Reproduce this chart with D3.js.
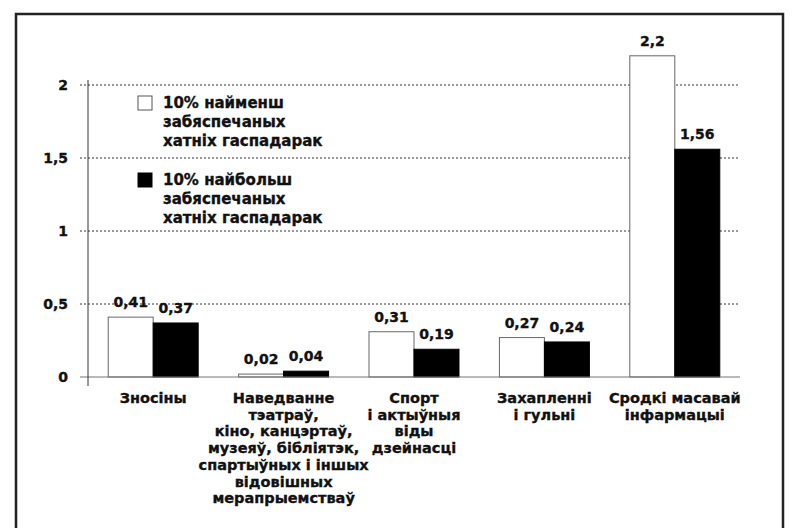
<!DOCTYPE html>
<html>
<head>
<meta charset="utf-8">
<script src="https://cdn.jsdelivr.net/npm/d3@7"></script>
<style>
  body { margin: 0; background: #fff; }
  text { font-family: "DejaVu Sans", Verdana, sans-serif; font-weight: bold; fill: #111; stroke: #111; stroke-width: 0.35px; }
</style>
</head>
<body>
<script>
const categories = ['Зносіны', 'Наведванне', 'Спорт', 'Захапленні', 'Сродкі масавай'];
const categoryLines = [
    ['Зносіны'],
    ['Наведванне', 'тэатраў,', 'кіно, канцэртаў,', 'музеяў, бібліятэк,', 'спартыўных і іншых', 'відовішных', 'мерапрыемстваў'],
    ['Спорт', 'і актыўныя', 'віды', 'дзейнасці'],
    ['Захапленні', 'і гульні'],
    ['Сродкі масавай', 'інфармацыі']
];
const seriesNames = ['poorest', 'richest'];
const poorestValues = [0.41, 0.02, 0.31, 0.27, 2.2];
const richestValues = [0.37, 0.04, 0.19, 0.24, 1.56];
const valueLabelsPoorest = ['0,41', '0,02', '0,31', '0,27', '2,2'];
const valueLabelsRichest = ['0,37', '0,04', '0,19', '0,24', '1,56'];
const yTicks = [0, 0.5, 1, 1.5, 2];
const yTickLabels = ['0', '0,5', '1', '1,5', '2'];
const legendLines = [
    ['10% найменш', 'забяспечаных', 'хатніх гаспадарак'],
    ['10% найбольш', 'забяспечаных', 'хатніх гаспадарак']
];

const SIZE = { width: 797, height: 528 };
const PLOT = { left: 88, right: 740, zero: 377, top2: 85 };

const svg = d3.select('body').append('svg')
    .attr('width', SIZE.width)
    .attr('height', SIZE.height);

// outer frame (bottom edge runs off the picture)
svg.append('rect')
    .attr('x', 16).attr('y', 14)
    .attr('width', 767).attr('height', 540)
    .attr('fill', 'none')
    .attr('stroke', '#222')
    .attr('stroke-width', 2.5);

const y = d3.scaleLinear().domain([0, 2]).range([PLOT.zero, PLOT.top2]);

const x0 = d3.scaleBand()
    .domain(categories)
    .range([PLOT.left, PLOT.right])
    .paddingInner(0.31)
    .paddingOuter(0.155);

const x1 = d3.scaleBand()
    .domain(seriesNames)
    .range([0, x0.bandwidth()]);

const rows = categories.map((c, i) => ({
    cat: c,
    lines: categoryLines[i],
    vals: [
        { key: 'poorest', v: poorestValues[i], label: valueLabelsPoorest[i] },
        { key: 'richest', v: richestValues[i], label: valueLabelsRichest[i] }
    ]
}));

// dashed gridlines
svg.append('g').selectAll('line')
    .data(yTicks.filter(d => d > 0))
    .enter().append('line')
    .attr('x1', 80).attr('x2', PLOT.right)
    .attr('y1', d => y(d)).attr('y2', d => y(d))
    .attr('stroke', '#333')
    .attr('stroke-width', 1)
    .attr('stroke-dasharray', '2,2');

// y tick labels
svg.append('g').selectAll('text')
    .data(yTicks)
    .enter().append('text')
    .attr('x', 68)
    .attr('y', d => y(d) + 5)
    .attr('text-anchor', 'end')
    .style('font-size', '14px')
    .text((d, i) => yTickLabels[i]);

// bars
const groups = svg.append('g').selectAll('g')
    .data(rows)
    .enter().append('g')
    .attr('transform', d => `translate(${x0(d.cat)},0)`);

groups.selectAll('rect')
    .data(d => d.vals)
    .enter().append('rect')
    .attr('x', d => x1(d.key))
    .attr('y', d => y(d.v))
    .attr('width', x1.bandwidth())
    .attr('height', d => PLOT.zero - y(d.v))
    .attr('fill', d => d.key === 'poorest' ? '#fff' : '#000')
    .attr('stroke', d => d.key === 'poorest' ? '#666' : '#000')
    .attr('stroke-width', 1);

groups.selectAll('text.value')
    .data(d => d.vals)
    .enter().append('text')
    .attr('class', 'value')
    .attr('x', d => x1(d.key) + x1.bandwidth() / 2)
    .attr('y', d => y(d.v) - 10)
    .attr('text-anchor', 'middle')
    .style('font-size', '14px')
    .text(d => d.label);

// category labels
groups.append('text')
    .attr('text-anchor', 'middle')
    .style('font-size', '14.5px')
    .selectAll('tspan')
    .data(d => d.lines)
    .enter().append('tspan')
    .attr('x', x0.bandwidth() / 2)
    .attr('y', (d, i) => 403 + i * 16.7)
    .text(d => d);

// axis lines
svg.append('line')
    .attr('x1', 80).attr('x2', PLOT.right)
    .attr('y1', PLOT.zero).attr('y2', PLOT.zero)
    .attr('stroke', '#777').attr('stroke-width', 1.2);

svg.append('line')
    .attr('x1', PLOT.left).attr('x2', PLOT.left)
    .attr('y1', 80).attr('y2', 386)
    .attr('stroke', '#333').attr('stroke-width', 1);

// legend
const legend = svg.append('g').attr('transform', 'translate(138,0)');
const legendTop = [96, 173];
legendLines.forEach((lines, i) => {
    legend.append('rect')
        .attr('x', 0).attr('y', legendTop[i])
        .attr('width', 14).attr('height', 14)
        .attr('fill', i === 0 ? '#fff' : '#000')
        .attr('stroke', i === 0 ? '#555' : '#000');
    legend.append('text')
        .style('font-size', '15px')
        .selectAll('tspan')
        .data(lines)
        .enter().append('tspan')
        .attr('x', 25)
        .attr('y', (d, j) => legendTop[i] + 12 + j * 19)
        .text(d => d);
});
</script>
</body>
</html>
